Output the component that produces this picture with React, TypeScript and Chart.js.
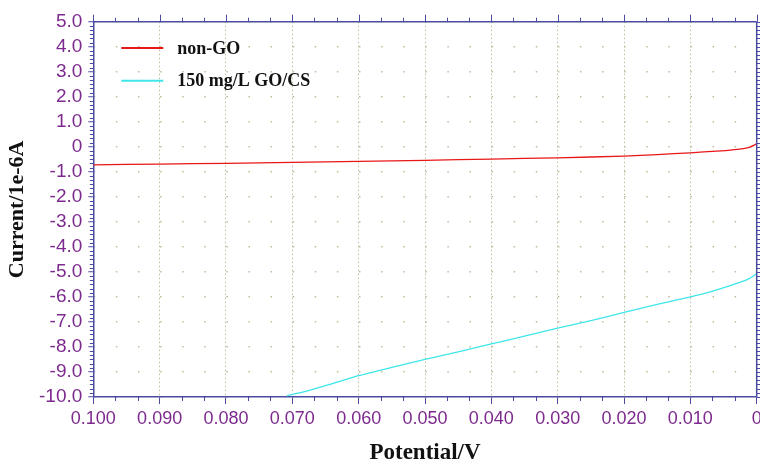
import React, { useEffect, useRef } from "react";
import { Chart, registerables } from "chart.js";

Chart.register(...registerables);

const seriesLabels = ["non-GO", "150 mg/L GO/CS"];
const seriesColors = ["#e81818", "#3ee6ea"];

const potentialNonGO = [0.1, 0.09, 0.08, 0.07, 0.06, 0.05, 0.04, 0.03, 0.02, 0.015, 0.01, 0.006, 0.004, 0.002, 0.001, 0.0];
const currentNonGO = [-0.72, -0.69, -0.66, -0.62, -0.58, -0.54, -0.49, -0.44, -0.37, -0.31, -0.24, -0.17, -0.13, -0.07, -0.01, 0.12];

const potentialGO = [0.0708, 0.068, 0.065, 0.06, 0.055, 0.05, 0.045, 0.04, 0.035, 0.03, 0.025, 0.02, 0.015, 0.01, 0.007, 0.004, 0.002, 0.001, 0.0];
const currentGO = [-9.95, -9.78, -9.55, -9.15, -8.82, -8.5, -8.2, -7.88, -7.57, -7.25, -6.95, -6.62, -6.3, -6.0, -5.8, -5.55, -5.37, -5.25, -5.07];

const xMin = 0;
const xMax = 0.1;
const xStep = 0.01;
const yMin = -10;
const yMax = 5;
const yStep = 1;

const AXIS = "#4b4ba2";
const LABEL = "#7d2a8e";
const GRID = "#bdbd9c";

const toPoints = (xs: number[], ys: number[]) => xs.map((x, i) => ({ x, y: ys[i] }));

const extrasPlugin = {
  id: "extras",
  afterDraw(chart: any) {
    const { ctx, chartArea } = chart;
    const xs = chart.scales.x;
    const ys = chart.scales.y;
    const { left, right, top, bottom } = chartArea;
    ctx.save();
    ctx.strokeStyle = AXIS;
    ctx.lineWidth = 1.5;
    ctx.beginPath();
    ctx.moveTo(left, top);
    ctx.lineTo(right, top);
    ctx.moveTo(right, top);
    ctx.lineTo(right, bottom);
    ctx.stroke();
    ctx.lineWidth = 1;
    ctx.beginPath();
    const nX = Math.round((xMax - xMin) / (xStep / 3));
    for (let i = 0; i <= nX; i++) {
      const v = xMin + (i * xStep) / 3;
      const px = Math.round(xs.getPixelForValue(v)) + 0.5;
      const major = i % 3 === 0;
      if (!major) {
        ctx.moveTo(px, bottom);
        ctx.lineTo(px, bottom + 4);
      }
      ctx.moveTo(px, top);
      ctx.lineTo(px, top - (major ? 7 : 4));
    }
    const nY = Math.round((yMax - yMin) * 6);
    for (let i = 0; i <= nY; i++) {
      const v = yMin + i / 6;
      const py = Math.round(ys.getPixelForValue(v)) + 0.5;
      if (i % 6 !== 0) {
        ctx.moveTo(left, py);
        ctx.lineTo(left - 3.5, py);
      }
      ctx.moveTo(right, py);
      ctx.lineTo(right + 5, py);
    }
    ctx.stroke();

    const datasets = chart.data.datasets;
    datasets.forEach((ds: any, i: number) => {
      const y = top + 26.3 + i * 32.7;
      ctx.strokeStyle = ds.borderColor;
      ctx.lineWidth = 2;
      ctx.beginPath();
      ctx.moveTo(left + 28, y);
      ctx.lineTo(left + 70, y);
      ctx.stroke();
      ctx.fillStyle = "#111";
      ctx.font = "bold 18px 'Liberation Serif', 'Times New Roman', serif";
      ctx.textBaseline = "middle";
      ctx.textAlign = "left";
      ctx.fillText(ds.label, left + 84, y + 1);
    });
    ctx.restore();
  },
};

export default function App() {
  const ref = useRef<HTMLCanvasElement | null>(null);
  useEffect(() => {
    if (!ref.current) return;
    const chart = new Chart(ref.current, {
      type: "line",
      data: {
        datasets: [
          {
            label: seriesLabels[0],
            data: toPoints(potentialNonGO, currentNonGO),
            borderColor: seriesColors[0],
            borderWidth: 1.3,
            pointRadius: 0,
            tension: 0.2,
          },
          {
            label: seriesLabels[1],
            data: toPoints(potentialGO, currentGO),
            borderColor: seriesColors[1],
            borderWidth: 1.3,
            pointRadius: 0,
            tension: 0.2,
          },
        ],
      },
      options: {
        animation: false,
        responsive: false,
        parsing: false as any,
        layout: { padding: { left: 0, right: 33.3, top: 21.7, bottom: 0 } },
        plugins: {
          legend: { display: false },
          tooltip: { enabled: false },
        },
        scales: {
          x: {
            type: "linear",
            reverse: true,
            min: xMin,
            max: xMax,
            afterFit: (s: any) => {
              s.height = 68;
            },
            ticks: {
              stepSize: xStep,
              color: LABEL,
              padding: 4,
              maxRotation: 0,
              autoSkip: false,
              font: { family: "'Liberation Sans', Arial, sans-serif", size: 18 },
              callback: (v: any) => (Math.abs(v) < 1e-9 ? "0" : Number(v).toFixed(3)),
            },
            grid: {
              color: GRID,
              lineWidth: 1,
              tickColor: AXIS,
              tickLength: 7,
              tickWidth: 1,
            },
            border: { color: AXIS, width: 1.5, dash: [1.5, 2.5] },
            title: {
              display: true,
              text: "Potential/V",
              color: "#111",
              padding: { top: 0, bottom: 0 },
              font: { family: "'Liberation Serif', 'Times New Roman', serif", size: 23, weight: "bold", lineHeight: 1 },
            },
          },
          y: {
            type: "linear",
            min: yMin,
            max: yMax,
            afterFit: (s: any) => {
              s.width = 93.3;
            },
            ticks: {
              stepSize: yStep,
              color: LABEL,
              padding: 6,
              autoSkip: false,
              font: { family: "'Liberation Sans', Arial, sans-serif", size: 19, lineHeight: 1 },
              callback: (v: any) => (Math.abs(v) < 1e-9 ? "0" : Number(v).toFixed(1)),
            },
            grid: {
              color: GRID,
              lineWidth: 1.5,
              tickColor: AXIS,
              tickLength: 5,
              tickWidth: 1,
            },
            border: { color: AXIS, width: 1.5, dash: [1.5, 20.6], dashOffset: 0.75 },
            title: {
              display: true,
              text: "Current/1e-6A",
              color: "#111",
              padding: { top: 4, bottom: 0 },
              font: { family: "'Liberation Serif', 'Times New Roman', serif", size: 22, weight: "bold" },
            },
          },
        },
      },
      plugins: [extrasPlugin],
    });
    return () => chart.destroy();
  }, []);
  return (
    <div style={{ position: "fixed", left: 0, top: 0, width: 760, height: 465, overflow: "hidden", background: "#fff" }}>
      <canvas ref={ref} width={790} height={465} style={{ width: 790, height: 465, display: "block" }} />
    </div>
  );
}
